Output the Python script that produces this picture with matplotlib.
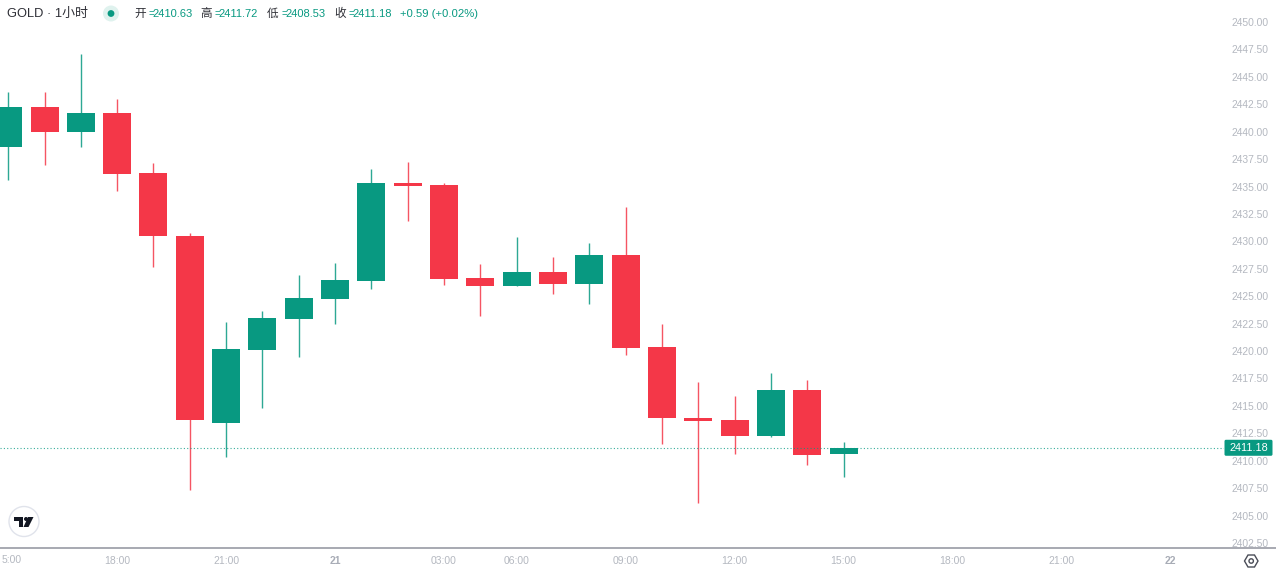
import matplotlib
matplotlib.use("Agg")
import matplotlib.pyplot as plt
from matplotlib.patches import Circle, FancyBboxPatch, Polygon

plt.rcParams['font.family'] = ['Liberation Sans', 'Noto Sans CJK SC', 'DejaVu Sans']

opens  = [2438.63, 2442.25, 2439.97, 2441.70, 2436.19, 2430.53, 2413.41, 2420.14, 2422.92, 2424.74, 2426.41, 2435.28,
          2435.18, 2426.66, 2425.93, 2427.25, 2426.11, 2428.80, 2420.37, 2413.94, 2413.71, 2412.25, 2416.45, 2410.63]
closes = [2442.25, 2439.97, 2441.70, 2436.10, 2430.53, 2413.71, 2420.19, 2422.97, 2424.86, 2426.52, 2435.29, 2435.05,
          2426.61, 2425.93, 2427.25, 2426.11, 2428.80, 2420.30, 2413.89, 2413.62, 2412.25, 2416.45, 2410.52, 2411.18]
highs  = [2443.65, 2443.65, 2447.08, 2442.98, 2437.14, 2430.76, 2422.65, 2423.65, 2426.93, 2428.07, 2436.60, 2437.24,
          2435.32, 2427.98, 2430.44, 2428.57, 2429.85, 2433.09, 2422.47, 2417.18, 2415.86, 2418.00, 2417.36, 2411.72]
lows   = [2435.59, 2436.93, 2438.63, 2434.55, 2427.66, 2407.33, 2410.34, 2414.81, 2419.46, 2422.47, 2425.66, 2431.86,
          2426.02, 2423.19, 2425.93, 2425.20, 2424.29, 2419.64, 2411.52, 2406.19, 2410.61, 2412.12, 2409.61, 2408.53]
x_tick_pos = [3, 6, 9, 12, 14, 17, 20, 23, 26, 29, 32]
x_tick_labels = ['18:00', '21:00', '21', '03:00', '06:00', '09:00', '12:00', '15:00', '18:00', '21:00', '22']
first_x_label = '5:00'
y_tick_vals = [2402.5 + 2.5 * i for i in range(20)]
last_price = 2411.18
header_ohlc = [('开', '2410.63', 134), ('高', '2411.72', 200), ('低', '2408.53', 267), ('收', '2411.18', 334)]

UP, DOWN = '#089981', '#F43748'
W, H = 1276, 572
PX_X0, PX_BAR = 8.2, 36.32
PX_Y0, PX_UNIT = 22.0, 10.968
AX_R, AX_B = 1224, 548

fig = plt.figure(figsize=(W / 100, H / 100), dpi=100, facecolor='white')
ax = fig.add_axes([0, 1 - AX_B / H, AX_R / W, AX_B / H])
ax.set_xlim(-PX_X0 / PX_BAR, (AX_R - PX_X0) / PX_BAR)
ax.set_ylim(2450 - (AX_B - PX_Y0) / PX_UNIT, 2450 + PX_Y0 / PX_UNIT)
for s in ax.spines.values():
    s.set_visible(False)

xs = list(range(len(opens)))
colors = [UP if c >= o else DOWN for o, c in zip(opens, closes)]
ax.vlines(xs, lows, highs, colors=colors, linewidth=1.0, alpha=0.85, zorder=2)
ax.bar(xs, [abs(c - o) for o, c in zip(opens, closes)], bottom=[min(o, c) for o, c in zip(opens, closes)],
       width=28 / PX_BAR, color=colors, linewidth=0, zorder=3)
ax.axhline(last_price, color=UP, linewidth=0.8, linestyle=(0, (1, 2)), alpha=0.8, zorder=4)

ax.yaxis.tick_right()
ax.set_yticks(y_tick_vals, [f'{v:.2f}' for v in y_tick_vals])
ax.set_xticks(x_tick_pos, x_tick_labels)
ax.tick_params(axis='y', length=0, pad=5.5, labelsize=7.4, labelcolor='#b4b8c0')
ax.tick_params(axis='x', length=0, pad=5.5, labelsize=7.5, labelcolor='#b4b8c0')
for lab in ax.get_xticklabels():
    if ':' not in lab.get_text():
        lab.set_fontweight('bold')
        lab.set_color('#a8acb6')

ov = fig.add_axes([0, 0, 1, 1], facecolor='none')
ov.set_xlim(0, W)
ov.set_ylim(H, 0)
ov.axis('off')

ov.plot([0, W], [AX_B, AX_B], color='#8f929c', linewidth=1.1, solid_capstyle='butt')
ov.text(1.5, 560.3, first_x_label, fontsize=7.5, color='#b4b8c0', ha='left', va='center')

TXT = '#2e2f36'
ov.text(7, 14, 'GOLD · 1小时', fontsize=9.3, color=TXT, va='center', ha='left')
ov.add_patch(Circle((111, 13.5), 8, facecolor='#dff2ee', edgecolor='none'))
ov.add_patch(Circle((111, 13.5), 3.4, facecolor=UP, edgecolor='none'))
for name, val, x in header_ohlc:
    ov.text(x, 14, name, fontsize=8.4, color=TXT, va='center', ha='left')
    ov.text(x + 14.2, 14, '=', fontsize=7, color=UP, va='center', ha='left')
    ov.text(x + 18.5, 14, val, fontsize=8.0, color=UP, va='center', ha='left')
ov.text(400, 14, '+0.59 (+0.02%)', fontsize=8.1, color=UP, va='center', ha='left')

tag_y = PX_Y0 + (2450 - last_price) * PX_UNIT
ov.add_patch(FancyBboxPatch((1225, tag_y - 7.5), 47, 15, boxstyle='round,pad=0.5,rounding_size=1.5',
                            facecolor=UP, edgecolor='none', zorder=5))
ov.text(1248.5, tag_y + 0.3, f'{last_price:.2f}', color='white', fontsize=7.8, ha='center', va='center', zorder=6)

ov.add_patch(Circle((24, 521.5), 15, facecolor='white', edgecolor='#e0e3eb', linewidth=1))
for poly in ([(14, 517), (23, 517), (23, 527), (18.5, 527), (18.5, 521), (14, 521)],
             [(28, 517), (33.5, 517), (28.5, 527), (23.5, 527)]):
    ov.add_patch(Polygon(poly, closed=True, facecolor='#131722', edgecolor='none'))
ov.add_patch(Circle((26, 519), 2.0, facecolor='#131722', edgecolor='none'))

hexagon = [(1244.5, 561), (1248, 555), (1254.5, 555), (1258, 561), (1254.5, 567), (1248, 567)]
ov.add_patch(Polygon(hexagon, closed=True, facecolor='white', edgecolor='#4a4d57', linewidth=1))
ov.add_patch(Circle((1251.2, 561), 2.2, facecolor='white', edgecolor='#4a4d57', linewidth=1))

fig.savefig('out.png', dpi=100)
